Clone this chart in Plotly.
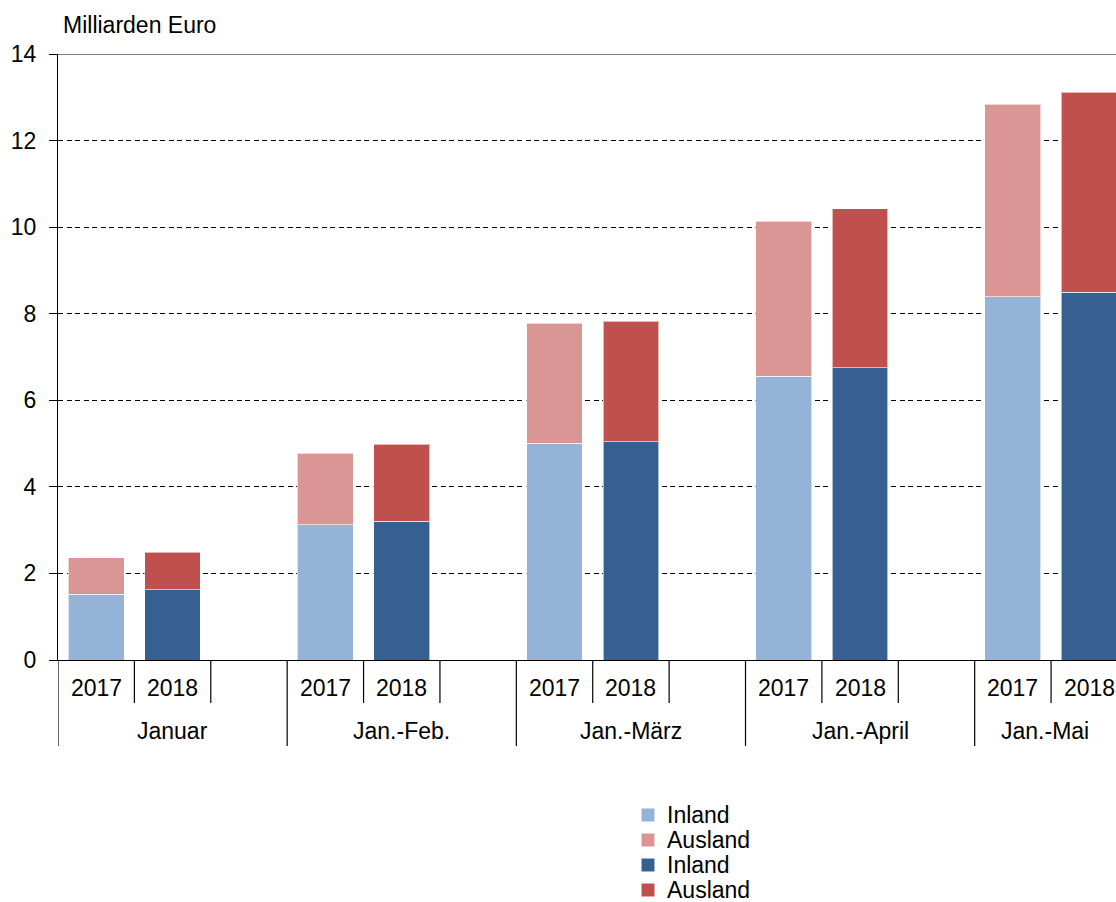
import plotly.graph_objects as go

groups = ["Januar", "Jan.-Feb.", "Jan.-März", "Jan.-April", "Jan.-Mai"]
years = ["2017", "2018"]
inland_2017 = [1.52, 3.12, 5.01, 6.56, 8.39]
ausland_2017 = [0.84, 1.66, 2.77, 3.58, 4.45]
inland_2018 = [1.62, 3.21, 5.04, 6.75, 8.50]
ausland_2018 = [0.87, 1.78, 2.79, 3.67, 4.62]

y_ticks = [0, 2, 4, 6, 8, 10, 12, 14]

C_IN17 = "#95B3D7"
C_AUS17 = "#D99694"
C_IN18 = "#366092"
C_AUS18 = "#C0504D"
FONT = "Liberation Sans, Arial, sans-serif"
FS = 23

SLOTS = 3
x17 = [SLOTS * g for g in range(len(groups))]
x18 = [SLOTS * g + 1 for g in range(len(groups))]
BW = 0.73
X_RANGE = [-0.5, 13.35]

series = [
    ("Inland", x17, inland_2017, C_IN17),
    ("Ausland", x17, ausland_2017, C_AUS17),
    ("Inland", x18, inland_2018, C_IN18),
    ("Ausland", x18, ausland_2018, C_AUS18),
]

fig = go.Figure()
for name, xs, ys, col in series:
    fig.add_trace(go.Bar(
        x=xs, y=ys, name=name, width=BW,
        marker=dict(color=col, line=dict(color="rgba(255,255,255,0.6)", width=1)),
    ))

shapes = []
annotations = []
PH = 606.0
# top solid line
shapes.append(dict(type="line", xref="paper", yref="y", x0=0, x1=1, y0=14, y1=14,
                   line=dict(color="black", width=1.2)))
for g, grp in enumerate(groups):
    base = SLOTS * g - 0.5
    shapes.append(dict(type="line", xref="x", yref="paper", x0=base, x1=base,
                       y0=0, y1=-86 / PH, line=dict(color="black", width=1.2)))
    for k in (1, 2):
        shapes.append(dict(type="line", xref="x", yref="paper", x0=base + k, x1=base + k,
                           y0=0, y1=-43 / PH, line=dict(color="black", width=1.2)))
    for j, yr in enumerate(years):
        annotations.append(dict(x=SLOTS * g + j, y=-28 / PH, xref="x", yref="paper",
                                text=yr, showarrow=False, yanchor="middle",
                                font=dict(family=FONT, size=FS, color="black")))
    end = min(base + SLOTS, X_RANGE[1])
    annotations.append(dict(x=(base + end) / 2, y=-71 / PH, xref="x", yref="paper",
                            text=grp, showarrow=False, yanchor="middle",
                            font=dict(family=FONT, size=FS, color="black")))

annotations.append(dict(x=0, y=14, xref="paper", yref="y", xshift=3, yshift=29,
                        text="Milliarden Euro", showarrow=False, xanchor="left",
                        yanchor="middle", font=dict(family=FONT, size=FS, color="black")))

# legend (drawn manually for compact row spacing)
LEG_X = (648 - 58) / 1058.0
for i, (name, xs, ys, col) in enumerate(series):
    yc = (660 - (815 + 25 * i)) / PH
    shapes.append(dict(type="rect", xref="paper", yref="paper",
                       x0=LEG_X - 6.5 / 1058, x1=LEG_X + 6.5 / 1058,
                       y0=yc - 6.5 / PH, y1=yc + 6.5 / PH,
                       fillcolor=col, line=dict(width=0)))
    annotations.append(dict(x=LEG_X, y=yc, xref="paper", yref="paper", xshift=17,
                            text=name, showarrow=False, xanchor="left", yanchor="middle",
                            font=dict(family=FONT, size=FS, color="black")))

fig.update_layout(
    width=1116, height=902,
    margin=dict(l=58, r=0, t=54, b=242, pad=0),
    paper_bgcolor="white", plot_bgcolor="white",
    barmode="stack",
    font=dict(family=FONT, size=FS, color="black"),
    showlegend=False,
    shapes=shapes,
    annotations=annotations,
    xaxis=dict(range=X_RANGE, showgrid=False, showticklabels=False, ticks="",
               showline=True, linecolor="black", linewidth=1.2, zeroline=False, fixedrange=True),
    yaxis=dict(range=[0, 14], tickvals=y_ticks, showgrid=True, gridcolor="black",
               griddash="5px,3.5px", gridwidth=1, showline=True, linecolor="black", linewidth=1.2,
               ticks="outside", ticklen=8, tickcolor="black", tickwidth=1.2, zeroline=False,
               ticklabelstandoff=8,
               tickfont=dict(family=FONT, size=FS, color="black")),
)

fig.write_html("out.html")
